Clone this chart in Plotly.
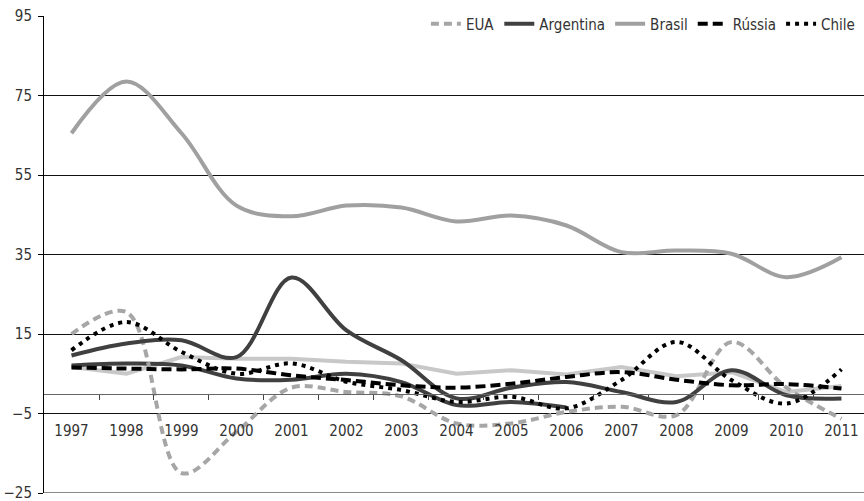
import plotly.graph_objects as go

years = list(range(1997, 2012))
year_labels = [str(y) for y in years]

eua       = [15.0, 20.5, -20.0, -9.6, 1.5, 0.4, -0.7, -7.5, -7.5, -4.6, -3.3, -5.4, 13.0, 1.5, -6.3]
argentina = [9.6, 12.6, 13.4, 9.2, 29.2, 15.9, 8.4, -1.2, 1.5, 2.9, 0.4, -2.1, 5.9, -0.4, -1.2]
brasil    = [65.5, 78.5, 65.5, 47.3, 44.6, 47.3, 46.8, 43.3, 44.8, 42.3, 35.6, 36.0, 35.2, 29.3, 34.3]
russia    = [6.6, 6.3, 6.1, 6.3, 4.6, 3.4, 2.1, 1.5, 2.5, 4.2, 5.4, 3.5, 2.1, 2.4, 1.3]
chile     = [10.9, 18.0, 10.5, 5.0, 7.6, 3.0, 0.9, -2.1, -0.8, -3.7, 3.4, 13.0, 3.4, -2.5, 6.1]
outro_claro = [6.7, 5.0, 9.2, 8.8, 8.8, 8.0, 7.6, 5.0, 5.9, 4.8, 6.7, 4.4, 5.4, 0.4, 1.9]
outro_escuro = [7.1, 7.6, 7.1, 3.8, 3.5, 5.0, 2.9, -2.9, -2.1, -3.5, None, None, None, None, None]

y_ticks = [-25, -5, 15, 35, 55, 75, 95]
minor_ticks = [y + 0.5 for y in years[:-1]]

FONT = "DejaVu Sans Condensed, Liberation Sans Narrow, sans-serif"

fig = go.Figure()

def add(name, vals, color, dash, shape="spline", legend=True):
    fig.add_trace(go.Scatter(
        x=years, y=vals, name=name, mode="lines",
        line=dict(color=color, width=4, dash=dash, shape=shape, smoothing=1.0),
        showlegend=legend, connectgaps=False, hoverinfo="x+y+name",
    ))

add("Outro 1", outro_claro, "#c8c8c8", "solid", shape="linear", legend=False)
add("Outro 2", outro_escuro, "#404040", "solid", legend=False)
add("EUA", eua, "#a6a6a6", "8px,5px")
add("Argentina", argentina, "#404040", "solid")
add("Brasil", brasil, "#a0a0a0", "solid")
add("Rússia", russia, "#000000", "10px,5px")
add("Chile", chile, "#000000", "4px,5px")

# invisible carrier trace so the secondary (zero-line) axis is drawn
fig.add_trace(go.Scatter(x=years, y=[None] * len(years), xaxis="x2", yaxis="y",
                         mode="lines", showlegend=False, hoverinfo="skip"))

fig.update_layout(
    width=864, height=501,
    margin=dict(l=44, r=0, t=16, b=8),
    paper_bgcolor="white", plot_bgcolor="white",
    font=dict(family=FONT, size=15, color="#333333"),
    showlegend=True,
    legend=dict(orientation="h", x=0.995, xanchor="right", y=1.018, yanchor="top",
                bgcolor="rgba(0,0,0,0)", font=dict(size=15, family=FONT),
                traceorder="normal", itemwidth=30),
    yaxis=dict(range=[-25, 95], tickvals=y_ticks, showgrid=True, gridcolor="#111111",
               gridwidth=1, zeroline=False, showline=True, linecolor="#000000",
               linewidth=1, ticks="outside", ticklen=5, tickcolor="#000000",
               ticklabelstandoff=3, ticklabeloverflow="allow", automargin=False),
    xaxis=dict(range=[1996.5, 2011.41], tickvals=years, ticktext=year_labels,
               showgrid=False, zeroline=False, showline=False, ticks="",
               anchor="free", position=20/120, ticklabelstandoff=6),
    xaxis2=dict(range=[1996.5, 2011.41], overlaying="x", anchor="free", position=25/120,
                showgrid=False, zeroline=False, showline=True, linecolor="#666666",
                linewidth=1, ticks="outside", ticklen=5, tickcolor="#444444",
                tickvals=minor_ticks, showticklabels=False),
)

fig.add_shape(type="line", xref="paper", yref="y", x0=0, x1=1, y0=-25, y1=-25,
              line=dict(color="#8a8a8a", width=2))

fig.write_html("out.html")
